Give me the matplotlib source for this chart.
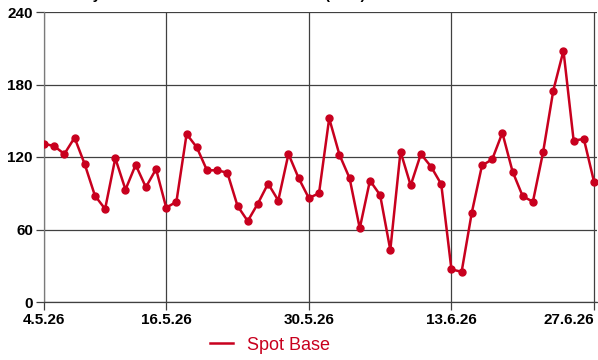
import matplotlib
matplotlib.use('Agg')
import matplotlib.pyplot as plt
import pandas as pd

# daily spot base values, 4.5.26 .. 27.6.26
dates = pd.date_range('2026-05-04', '2026-06-27', freq='D')
spot_base = [131, 129, 122.5, 136, 114, 88, 77, 119, 93, 113.5, 95, 110,
             78, 83, 139, 128, 109, 109, 107, 79.5, 67, 81.5, 98, 84, 122.5,
             102.5, 86, 90, 152, 122, 102.5, 61, 100.5, 88.5, 43, 124.5, 96.5,
             122.5, 112, 97.5, 27, 25, 74, 113, 118, 140, 108, 87.5, 83, 124,
             175, 208, 133.5, 135, 99.5]

tick_dates = pd.to_datetime(['2026-05-04', '2026-05-16', '2026-05-30',
                             '2026-06-13', '2026-06-27'])
tick_labels = ['4.5.26', '16.5.26', '30.5.26', '13.6.26', '27.6.26']
y_ticks = [0, 60, 120, 180, 240]

red = '#c8001e'
grid_col = '#404040'
font_bold = ['Liberation Sans', 'DejaVu Sans']

fig = plt.figure(figsize=(5.98, 3.6), dpi=100)
ax = fig.add_axes([44/598, 58/360, 553/598, 290/360])

ax.plot(dates, spot_base, color=red, lw=1.8, marker='o', ms=5,
        label='Spot Base', zorder=3)

ax.set_ylim(0, 240)
ax.set_xlim(dates[0], dates[-1] + pd.Timedelta(hours=7))
ax.set_yticks(y_ticks)
ax.set_xticks(tick_dates)
ax.set_xticklabels(tick_labels)

ax.grid(True, color=grid_col, lw=0.9)
for s in ['top', 'right']:
    ax.spines[s].set_visible(False)
ax.spines['left'].set_color('#7a7a7a')
ax.spines['bottom'].set_color(grid_col)
ax.spines['left'].set_linewidth(0.9)
ax.spines['bottom'].set_linewidth(0.9)

ax.tick_params(length=6, width=0.9, color=grid_col, pad=2)
for lab in ax.get_xticklabels() + ax.get_yticklabels():
    lab.set_family(font_bold)
    lab.set_fontweight('bold')
    lab.set_fontsize(11)
# last date label kept inside the figure
ax.get_xticklabels()[-1].set_horizontalalignment('right')

leg = ax.legend(loc='center', bbox_to_anchor=(270/598, 15/360),
                bbox_transform=fig.transFigure, frameon=False,
                handlelength=1.3, handletextpad=0.8,
                prop={'family': ['Liberation Sans', 'DejaVu Sans'], 'size': 13})
for h in leg.legend_handles:
    h.set_marker('')
for t in leg.get_texts():
    t.set_color(red)

# title sits above the figure edge, only its descenders show
fig.text(44/598, 1 + 1/360, 'Intraday Strom Base Index Deutschland (EUR)',
         va='baseline', ha='left', fontsize=10.5, fontweight='bold',
         family=font_bold)

plt.savefig('out.png', dpi=100)
